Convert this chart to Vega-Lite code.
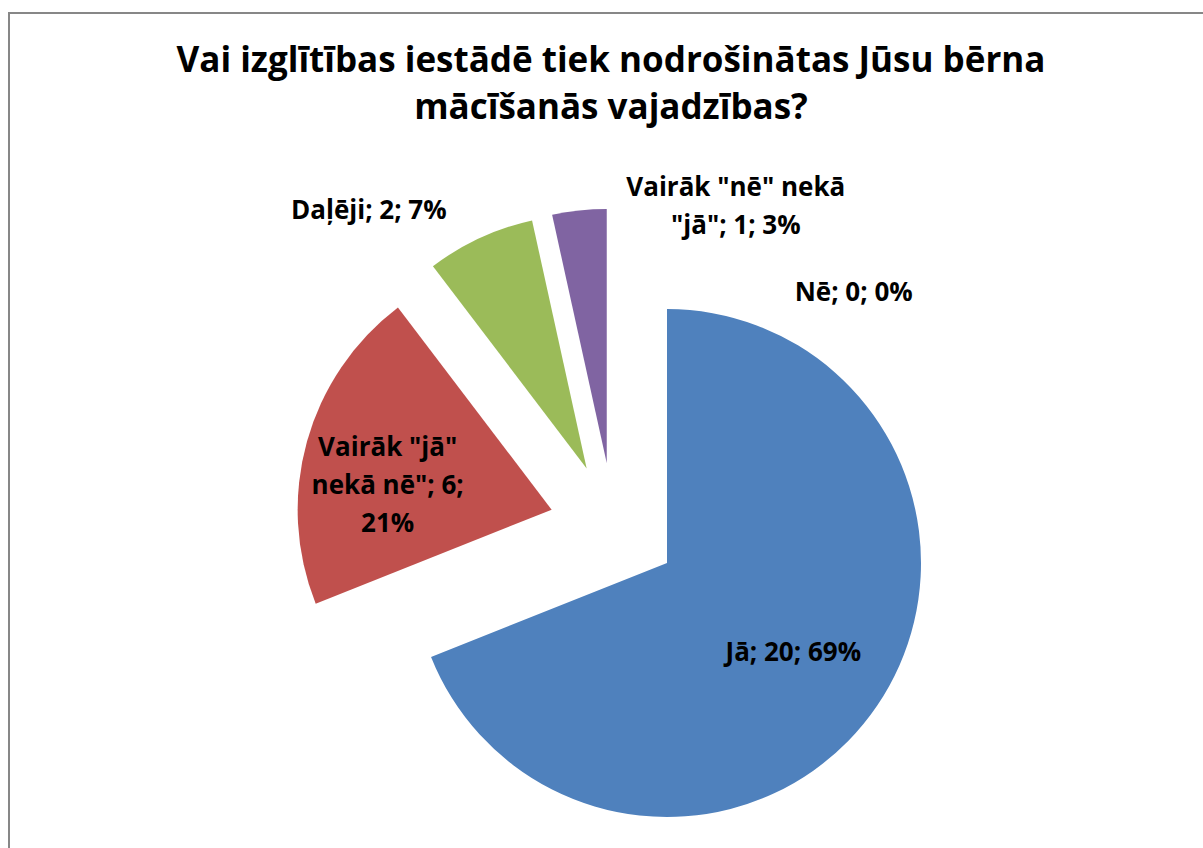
{
  "$schema": "https://vega.github.io/schema/vega-lite/v6.json",
  "autosize": {"type": "none"},
  "width": 1194,
  "height": 835,
  "padding": {"left": 9, "top": 13, "right": 0, "bottom": 0},
  "background": "white",
  "view": {"stroke": "#878787", "strokeWidth": 2, "strokeDash": [1194, 2029, 835], "fill": "white"},
  "config": {
    "view": {"stroke": "#878787", "strokeWidth": 2},
    "text": {"font": "Open Sans", "fontWeight": "bold", "fontSize": 26, "lineBreak": "\n", "lineHeight": 38, "fill": "#000000"}
  },
  "title": {
    "text": ["Vai izglītības iestādē tiek nodrošinātas Jūsu bērna", "mācīšanās vajadzības?"],
    "font": "Open Sans",
    "fontWeight": "bold",
    "fontSize": 35,
    "color": "#000000",
    "lineHeight": 47,
    "anchor": "middle",
    "frame": "group",
    "baseline": "alphabetic",
    "offset": -141,
    "dx": 5
  },
  "data": {
    "values": [
      {"cat": "Jā", "n": 20, "label": "Jā; 20; 69%"},
      {"cat": "Vairāk \"jā\" nekā nē", "n": 6, "label": "Vairāk \"jā\"\nnekā nē\"; 6;\n21%"},
      {"cat": "Daļēji", "n": 2, "label": "Daļēji; 2; 7%"},
      {"cat": "Vairāk \"nē\" nekā \"jā\"", "n": 1, "label": "Vairāk \"nē\" nekā\n\"jā\"; 1; 3%"},
      {"cat": "Nē", "n": 0, "label": "Nē; 0; 0%"}
    ]
  },
  "encoding": {
    "theta": {"field": "n", "type": "quantitative", "stack": true},
    "order": {"field": "n", "type": "quantitative", "sort": "descending"},
    "detail": {"field": "cat", "type": "nominal"}
  },
  "layer": [
    {
      "mark": {"type": "arc", "radius": 254, "xOffset": 61.0, "yOffset": 132.5},
      "encoding": {
        "color": {"field": "cat", "type": "nominal", "legend": null,
          "scale": {"domain": ["Jā", "Vairāk \"jā\" nekā nē", "Daļēji", "Vairāk \"nē\" nekā \"jā\"", "Nē"],
                    "range": ["#4F81BD", "#C0504D", "#9BBB59", "#8064A2", "#4BACC6"]}},
        "fillOpacity": {"condition": {"test": "datum.cat === 'Jā'", "value": 1}, "value": 0}
      }
    },
    {
      "mark": {"type": "arc", "radius": 254, "xOffset": -54.35, "yOffset": 79.17},
      "encoding": {
        "color": {"field": "cat", "type": "nominal", "legend": null},
        "fillOpacity": {"condition": {"test": "datum.cat === 'Vairāk \"jā\" nekā nē'", "value": 1}, "value": 0}
      }
    },
    {
      "mark": {"type": "arc", "radius": 254, "xOffset": -19.34, "yOffset": 37.95},
      "encoding": {
        "color": {"field": "cat", "type": "nominal", "legend": null},
        "fillOpacity": {"condition": {"test": "datum.cat === 'Daļēji'", "value": 1}, "value": 0}
      }
    },
    {
      "mark": {"type": "arc", "radius": 254, "xOffset": 0.73, "yOffset": 32.38},
      "encoding": {
        "color": {"field": "cat", "type": "nominal", "legend": null},
        "fillOpacity": {"condition": {"test": "datum.cat === 'Vairāk \"nē\" nekā \"jā\"'", "value": 1}, "value": 0}
      }
    },
    {
      "mark": {"type": "text", "radius": 155, "xOffset": 61.0, "yOffset": 132.5, "dx": -2, "dy": 3, "align": "center", "baseline": "middle"},
      "encoding": {
        "text": {"condition": {"test": "datum.cat === 'Jā'", "field": "label"}, "value": ""}
      }
    },
    {
      "mark": {"type": "text", "radius": 165, "xOffset": -54.35, "yOffset": 79.17, "dx": -5, "dy": -18, "align": "center", "baseline": "middle"},
      "encoding": {
        "text": {"condition": {"test": "datum.cat === 'Vairāk \"jā\" nekā nē'", "field": "label"}, "value": ""}
      }
    },
    {
      "mark": {"type": "text", "radius": 293, "xOffset": -19.34, "yOffset": 37.95, "dx": -17, "dy": 8.5, "align": "right", "baseline": "middle"},
      "encoding": {
        "text": {"condition": {"test": "datum.cat === 'Daļēji'", "field": "label"}, "value": ""}
      }
    },
    {
      "mark": {"type": "text", "radius": 286, "xOffset": 0.73, "yOffset": 32.38, "dx": 160, "dy": 9, "align": "center", "baseline": "middle"},
      "encoding": {
        "text": {"condition": {"test": "datum.cat === 'Vairāk \"nē\" nekā \"jā\"'", "field": "label"}, "value": ""}
      }
    },
    {
      "mark": {"type": "text", "radius": 170, "xOffset": 7.7, "yOffset": 32.0, "dx": 240, "dy": 0, "align": "center", "baseline": "middle"},
      "encoding": {
        "text": {"condition": {"test": "datum.cat === 'Nē'", "field": "label"}, "value": ""}
      }
    }
  ]
}
